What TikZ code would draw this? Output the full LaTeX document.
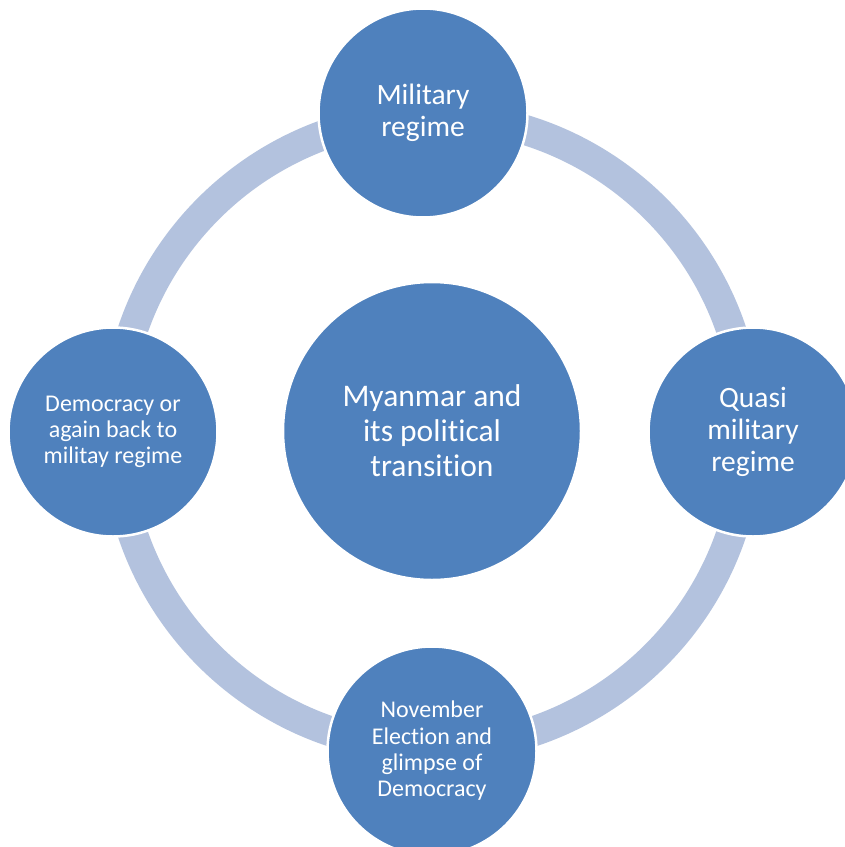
\documentclass[tikz,border=0pt]{standalone}
\usepackage{fontspec}
\setmainfont{Carlito}[Ligatures={NoCommon}]
\definecolor{cblue}{RGB}{79,129,189}
\definecolor{cring}{RGB}{179,194,222}
\begin{document}
\begin{tikzpicture}[x=1bp,y=-1bp,
  bubble/.style={circle,fill=cblue,draw=white,line width=2.5bp,inner sep=0pt,
    text=white,align=center},
  bigfont/.style={font=\fontsize{31.5bp}{35bp}\selectfont},
  midfont/.style={font=\fontsize{29.5bp}{31.8bp}\selectfont},
  smallfont/.style={font=\fontsize{24bp}{26.3bp}\selectfont}]
\useasboundingbox (0,0) rectangle (845,847);
\fill[white] (0,0) rectangle (845,847);
\coordinate (c) at (432,432);
\draw[cring,line width=30bp] (c) circle[radius=316];
\node[bubble,bigfont,minimum size=298bp] (center) at (432,431) {Myanmar and\\its political\\transition};
\node[bubble,midfont,minimum size=209bp] (top) at (423,113) {Military\\regime};
\node[bubble,midfont,minimum size=209bp] (right) at (753,432) {Quasi\\military\\regime};
\node[bubble,smallfont,minimum size=209bp] (bottom) at (432,751) {November\\Election and\\glimpse of\\Democracy};
\node[bubble,smallfont,minimum size=209bp] (left) at (113,432) {Democracy or\\again back to\\militay regime};
\end{tikzpicture}
\end{document}
